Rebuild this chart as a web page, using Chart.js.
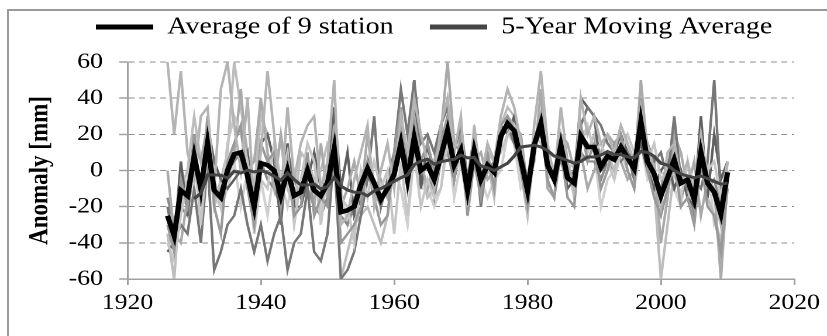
<!DOCTYPE html>
<html>
<head>
<meta charset="utf-8">
<script src="https://cdn.jsdelivr.net/npm/chart.js@4.4.1/dist/chart.umd.min.js"></script>
<style>
  html, body { margin: 0; padding: 0; background: #fff; }
  #frame {
    position: absolute; left: 7px; top: 9px; width: 830px; height: 340px;
    border-top: 2px solid #999; border-left: 2px solid #999;
  }
  #wrap {
    position: absolute; left: 0; top: 0; width: 707px; height: 336px;
    transform: scaleX(1.1697); transform-origin: 0 0;
  }
</style>
</head>
<body>
<div id="frame"></div>
<div id="wrap"><canvas id="chart"></canvas></div>
<script>
const years = Array.from({ length: 85 }, (_, i) => 1926 + i);

const average = [
  -25, -36, -11, -14, 8, -10, 15, -11, -15, 0,
  9, 10, -3, -20, 4, 3, 0, -14, 0, -14,
  -12, 0, -11, -14, -7, 12, -23, -22, -20, -8,
  1, -7, -16, -10, -2, 15, -5, 18, 0, 3,
  -5, 8, 22, 3, 11, -11, 11, -5, 3, -1,
  19, 26, 22, 6, -11, 14, 26, 3, -5, 14,
  -4, -7, 19, 13, 13, 2, 8, 6, 13, 7,
  1, 27, 5, -2, -14, -4, 6, -7, -5, -16,
  10, -7, -12, -24, -1
];

const movingAverage = [
  null, null, null, null, -15.6, -12.6, -2.4, -2.4, -2.6, -4.2,
  -0.4, -1.4, 0.2, -0.8, 0, -1.2, -3.2, -5.4, -1.4, -5,
  -8, -8, -7.4, -10.2, -8.8, -4, -8.6, -10.8, -12, -12.2,
  -14, -11.2, -10, -8, -6, -4, -2.5, 3.2, 5.2, 6.2,
  3.5, 4.8, 5.6, 6.2, 8.5, 7, 7.2, 2.5, 1.5, 0,
  2, 4, 8, 13, 13.5, 14, 13, 11, 8, 7,
  5.5, 4, 5, 7.5, 7.5, 8.5, 10.5, 8.8, 8.8, 7.5,
  7, 10.5, 10, 7.8, 4, 3, 0, -2, -3, -4,
  -3, -4.5, -6, -7.5, -7
];

const station1 = [
  60, 20, 55, 10, -5, 30, 35, -10, 45, 60,
  25, 0, 40, -20, 10, 55, 20, -15, 35, -5,
  15, 25, 30, -10, 5, 50, -30, -25, -5, 10,
  25, -20, 0, 15, -10, 30, 10, 40, 20, 5,
  -10, 25, 40, 10, 30, -20, 25, -5, 15, 5,
  30, 45, 35, 15, -15, 25, 55, 15, -5, 35,
  5, -10, 40, 20, 30, 15, 20, 10, 25, 15,
  5, 35, 15, 0, -20, 10, 15, -5, 5, -15,
  20, -5, -10, -30, 5
];
const station2 = [
  -30, -45, -5, -20, 20, -15, 30, -20, -35, 5,
  15, 25, -10, -30, 15, 5, 10, -20, 5, -25,
  -20, 10, -25, -15, -20, 20, -40, -35, -30, -20,
  5, -15, -30, -25, 10, 35, -10, 25, 5, 15,
  0, 15, 30, -5, 20, -25, 5, -15, 10, -10,
  25, 30, 20, 0, -20, 10, 30, -5, -15, 10,
  -15, -20, 25, 5, 15, -10, 0, 15, 20, 0,
  -10, 40, 0, -15, -25, -10, 5, -20, -15, -30,
  5, -20, -25, -45, -10
];
const station3 = [
  -40, -50, -25, -5, 10, -30, 10, -5, -20, 15,
  30, 20, 5, -35, -5, -10, 15, -5, 10, -30,
  -5, 15, 5, -30, 0, 5, -15, -20, -40, 0,
  -15, 5, -10, 0, -35, 5, -25, 10, -20, -5,
  -15, -10, 15, 0, 5, -20, 20, 0, 10, 5,
  10, 20, 25, 5, -5, 20, 15, 10, 0, 20,
  0, 5, 15, 25, 10, 15, 5, -5, 10, 20,
  10, 20, 5, 15, -5, 0, 5, -15, 5, -10,
  15, 0, 5, -15, 5
];
const station4 = [
  -20, -40, -30, -35, -10, -40, 5, -55, -45, -30,
  -25, -10, -30, -45, -30, -50, -35, -25, -55, -40,
  -35, -10, -45, -50, -35, 10, -60, -55, -45, -25,
  -5, 30, -20, -5, 10, 45, 20, 50, 15, 20,
  10, 25, 35, 10, 25, -5, 20, -20, 10, 5,
  20, 25, 15, 10, -5, 15, 20, 5, 0, 5,
  -5, 0, 25, 35, 30, 25, 15, 10, 5, 10,
  -5, 20, 15, 5, 10, -5, 30, -5, -10, -5,
  -10, 5, 50, -15, -10
];
const station5 = [
  0, -35, -40, -15, 15, 5, 25, -15, -10, -5,
  10, 45, 0, 5, 40, 10, -10, 20, -5, -15,
  -10, 5, -20, 15, -15, 25, -20, -10, 5, -15,
  20, -10, -5, -15, 5, 10, 0, 30, 5, -10,
  5, 20, 60, 15, 10, -15, 5, 10, -5, 0,
  15, 30, 25, 20, -10, 5, 45, -10, -15, 20,
  15, 0, 10, -10, 0, 10, 20, 15, 5, -5,
  0, 50, 10, 5, -40, -15, 20, 10, -10, 5,
  -25, -5, -10, -60, -5
];
const station6 = [
  -45, -40, 5, -25, 20, -20, 25, 5, -5, -10,
  -5, 0, 10, -25, 15, 20, 5, -30, 15, -20,
  -20, -5, 10, -10, -5, 35, -10, 10, -25, -15,
  0, -15, -10, -10, -5, 20, 5, 50, -10, 15,
  -5, 20, 25, -5, 15, -20, 10, -10, 5, 0,
  25, 20, 30, 10, -20, 15, 25, 5, 0, 10,
  -10, -5, 40, 35, 30, 0, 5, 10, 20, 10,
  5, 15, 0, -10, 0, 5, -10, 0, -15, -20,
  30, -15, 20, -5, 5
];
const station7 = [
  -35, -60, -10, 0, 30, 5, 20, -20, -5, 10,
  60, 35, 10, -10, 30, 20, 5, 15, -10, -20,
  10, 5, -5, 0, 15, 10, -60, -45, -30, -25,
  -20, -30, -40, -25, 5, 25, 10, 5, 0, -15,
  -10, 5, 20, 15, 20, -5, 10, 0, 5, -15,
  25, 35, 30, 0, -25, 15, 30, 10, 0, 20,
  5, -15, 25, 10, 20, 5, 10, 0, 15, 10,
  -5, 35, 5, -10, -60, -30, 0, -5, -10, -20,
  5, -15, -25, -40, 0
];
const station8 = [
  -15, -30, -20, -25, 5, -10, 15, -5, -20, 0,
  5, 10, -5, -15, 5, -5, -10, -20, 10, -5,
  -15, -10, -20, -25, -15, 5, -25, -30, -20, -5,
  5, -10, -20, -5, 0, 20, -10, 15, -5, 5,
  -15, 5, 10, -5, 15, -10, 15, -10, 0, 5,
  20, 25, 15, 5, -10, 20, 25, 0, -5, 15,
  0, -10, 10, 5, 5, -5, 5, 0, 15, 5,
  0, 30, 0, -5, -10, 5, 0, -15, -5, -25,
  10, -10, -5, -20, 5
];
const station9 = [
  -35, -45, 0, -10, -5, -5, 5, -15, -20, -10,
  5, -20, 0, -25, -5, -25, 0, -5, -20, 0,
  -10, -5, -5, -20, -5, 5, -10, -30, -15, -5,
  5, -10, -20, -5, 0, -10, -30, 10, -10, -10,
  -20, -10, 20, -15, 5, -10, 0, -5, -15, -5,
  0, 20, 15, -10, -5, 10, 25, -5, 0, 15,
  -5, -10, 20, 15, 10, -20, -5, 0, 10, 0,
  -10, 15, -5, 0, 0, -5, -10, -20, 5, -15,
  0, 5, -30, -25, -5
];

const stations = [station1, station2, station3, station4, station5, station6, station7, station8, station9];
const stationColors = ['#b4b4b4', '#999999', '#c6c6c6', '#777777', '#aaaaaa', '#5f5f5f', '#bdbdbd', '#8a8a8a', '#d0d0d0'];

const xTicks = [1920, 1940, 1960, 1980, 2000, 2020];
const yTicks = [-60, -40, -20, 0, 20, 40, 60];

const toPoints = (values) => years.map((yr, i) => ({ x: yr, y: values[i] }));

const datasets = stations.map((values, i) => ({
  label: "Station " + (i + 1),
  data: toPoints(values),
  borderColor: stationColors[i],
  borderWidth: 2.2,
  pointRadius: 0,
  tension: 0,
  order: 2
}));

datasets.push({
  label: "Average of 9 station",
  data: toPoints(average),
  borderColor: "#000000",
  borderWidth: 4.5,
  pointRadius: 0,
  tension: 0,
  order: 1
});

datasets.push({
  label: "5-Year Moving Average",
  data: toPoints(movingAverage),
  borderColor: "#454545",
  borderWidth: 3,
  pointRadius: 0,
  tension: 0,
  order: 0
});

const serif = "'Liberation Serif', 'Times New Roman', serif";

// first legend entry is an empty spacer so the two real entries sit where the original has them
const legendItems = [
  { text: "", fillStyle: "rgba(0,0,0,0)", strokeStyle: "rgba(0,0,0,0)", lineWidth: 0 },
  { text: "Average of 9 station    ", fillStyle: "#000000", strokeStyle: "#000000", lineWidth: 0, datasetIndex: 9 },
  { text: "5-Year Moving Average", fillStyle: "#454545", strokeStyle: "#454545", lineWidth: 0, datasetIndex: 10 }
];

new Chart(document.getElementById("chart"), {
  type: "line",
  data: { datasets: datasets },
  options: {
    responsive: true,
    maintainAspectRatio: false,
    animation: false,
    devicePixelRatio: 2,
    layout: { padding: { left: 7, right: 28, top: 8, bottom: 0 } },
    plugins: {
      tooltip: { enabled: false },
      title: {
        display: true,
        text: "",
        weight: 100,
        font: { size: 10, lineHeight: 1 },
        padding: { top: 3, bottom: 0 }
      },
      legend: {
        display: true,
        position: "top",
        align: "start",
        labels: {
          font: { family: serif, size: 24 },
          color: "#000",
          padding: 7,
          boxWidth: 49,
          boxHeight: 5,
          generateLabels: () => legendItems
        }
      }
    },
    scales: {
      x: {
        type: "linear",
        min: xTicks[0],
        max: xTicks[xTicks.length - 1],
        afterBuildTicks: (scale) => { scale.ticks = xTicks.map((v) => ({ value: v })); },
        afterFit: (scale) => { scale.height = 57; },
        grid: { drawOnChartArea: false, drawTicks: true, tickLength: 6, color: "#a0a0a0", lineWidth: 1.5 },
        border: { color: "#a0a0a0", width: 1.5 },
        ticks: { font: { family: serif, size: 22 }, color: "#000", padding: 5, maxRotation: 0, callback: (v) => String(v) }
      },
      y: {
        min: yTicks[0],
        max: yTicks[yTicks.length - 1],
        afterBuildTicks: (scale) => { scale.ticks = yTicks.map((v) => ({ value: v })); },
        afterFit: (scale) => { scale.width = 102; },
        grid: { color: "#8c8c8c", lineWidth: 1, drawTicks: true, tickLength: 7, tickColor: "#a0a0a0", tickWidth: 1.5 },
        border: { color: "#a0a0a0", width: 1.5, dash: [5, 4] },
        ticks: { font: { family: serif, size: 22 }, color: "#000", padding: 14, callback: (v) => String(v) },
        title: {
          display: true,
          text: "Anomaly [mm]",
          font: { family: serif, size: 23, weight: "bold" },
          color: "#000",
          padding: { top: 14, bottom: 0 }
        }
      }
    }
  }
});
</script>
</body>
</html>
